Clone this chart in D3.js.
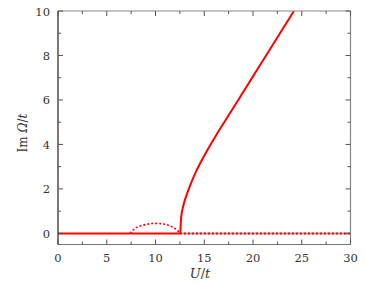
<!DOCTYPE html>
<html><head><meta charset="utf-8">
<script src="https://cdn.jsdelivr.net/npm/d3@7"></script>
<style>body{margin:0;background:#fff}svg{display:block}</style>
</head><body><svg id="c" width="365" height="285"></svg>
<script>
const xTicks=[0,5,10,15,20,25,30];
const yTicks=[0,2,4,6,8,10];
const solidZeroU=[0,12.5];
const solidZeroV=[0,0];
const branchU=[12.55,12.58,12.62,12.7,12.8,13.05,13.4,13.74,14.2,14.76,15.4,16.13,17.5,18.8,20.0,21.44,22.8,24.2];
const branchV=[0,0.35,0.65,0.95,1.15,1.55,1.98,2.36,2.82,3.3,3.81,4.35,5.31,6.22,7.06,8.07,9.02,10.0];
const arcU=[7.4,7.6,8.0,8.5,9.0,9.5,10.0,10.5,11.0,11.5,12.0,12.3,12.5];
const arcV=[0,0.12,0.25,0.34,0.4,0.44,0.45,0.44,0.41,0.34,0.22,0.12,0];
const dotZeroU=[12.5,30];
const dotZeroV=[0,0];

const FONT="'DejaVu Serif', serif";
const svg=d3.select("#c");
const L=58,R=350.5,T=11,B=244.5;
const x=d3.scaleLinear().domain([0,30]).range([L,R]);
const y=d3.scaleLinear().domain([-0.5,10]).range([B,T]);
svg.append("clipPath").attr("id","cp").append("rect").attr("x",L).attr("y",T).attr("width",R-L).attr("height",B-T);
const line=d3.line().x(d=>x(d[0])).y(d=>y(d[1]));
const pl=svg.append("g").attr("clip-path","url(#cp)");
const zip=(a,b)=>a.map((v,i)=>[v,b[i]]);
pl.append("path").attr("d",line(zip(dotZeroU,dotZeroV))).attr("stroke","#aaa").attr("stroke-width",2).attr("fill","none");
pl.append("path").attr("d",line(zip(dotZeroU,dotZeroV))).attr("stroke","#f00").attr("stroke-width",2).attr("stroke-dasharray","2,2").attr("fill","none");
pl.append("path").attr("d",line(zip(arcU,arcV))).attr("stroke","#f00").attr("stroke-width",1.6).attr("stroke-dasharray","2,2").attr("fill","none").attr("stroke-linecap","butt");
pl.append("path").attr("d",line(zip(solidZeroU,solidZeroV))).attr("stroke","#f00").attr("stroke-width",2).attr("fill","none");
pl.append("path").attr("d",d3.line().curve(d3.curveMonotoneY).x(d=>x(d[0])).y(d=>y(d[1]))(zip(branchU,branchV))).attr("stroke","#f00").attr("stroke-width",2).attr("fill","none");

svg.append("line").attr("x1",L).attr("x2",R).attr("y1",T).attr("y2",T).attr("stroke","#888").attr("stroke-width",1.2);
svg.append("line").attr("x1",R).attr("x2",R).attr("y1",T).attr("y2",B).attr("stroke","#888").attr("stroke-width",1.2);
svg.append("line").attr("x1",L).attr("x2",R).attr("y1",B).attr("y2",B).attr("stroke","#777").attr("stroke-width",1.2);
svg.append("line").attr("x1",L).attr("x2",L).attr("y1",T).attr("y2",B).attr("stroke","#222").attr("stroke-width",1.2);

const tk=svg.append("g").attr("stroke","#555").attr("stroke-width",1);
d3.range(0,30.01,2.5).forEach(v=>{
  const len=(v%5===0)?5:3;
  tk.append("line").attr("x1",x(v)).attr("x2",x(v)).attr("y1",B).attr("y2",B-len);
  tk.append("line").attr("x1",x(v)).attr("x2",x(v)).attr("y1",T).attr("y2",T+len);
});
d3.range(0,10.01,1).forEach(v=>{
  const len=(v%2===0)?5:3;
  tk.append("line").attr("y1",y(v)).attr("y2",y(v)).attr("x1",L).attr("x2",L+len);
  tk.append("line").attr("y1",y(v)).attr("y2",y(v)).attr("x1",R).attr("x2",R-len);
});
xTicks.forEach(v=>svg.append("text").attr("font-family",FONT).attr("x",x(v)).attr("y",B+17).attr("text-anchor","middle").attr("font-size",11.5).attr("fill","#333").text(v));
yTicks.forEach(v=>svg.append("text").attr("font-family",FONT).attr("x",L-8).attr("y",y(v)+4.5).attr("text-anchor","end").attr("font-size",11.5).attr("fill","#333").text(v));
const xl=svg.append("text").attr("font-family",FONT).attr("x",200).attr("y",278).attr("text-anchor","middle").attr("font-size",13).attr("fill","#333");
xl.append("tspan").attr("font-style","italic").text("U");
xl.append("tspan").text("/");
xl.append("tspan").attr("font-style","italic").text("t");
const yl=svg.append("text").attr("font-family",FONT).attr("transform","translate(27,133) rotate(-90)").attr("text-anchor","middle").attr("font-size",12).attr("fill","#333");
yl.append("tspan").text("Im ");
yl.append("tspan").attr("font-style","italic").text("Ω");
yl.append("tspan").text("/");
yl.append("tspan").attr("font-style","italic").text("t");
</script></body></html>
